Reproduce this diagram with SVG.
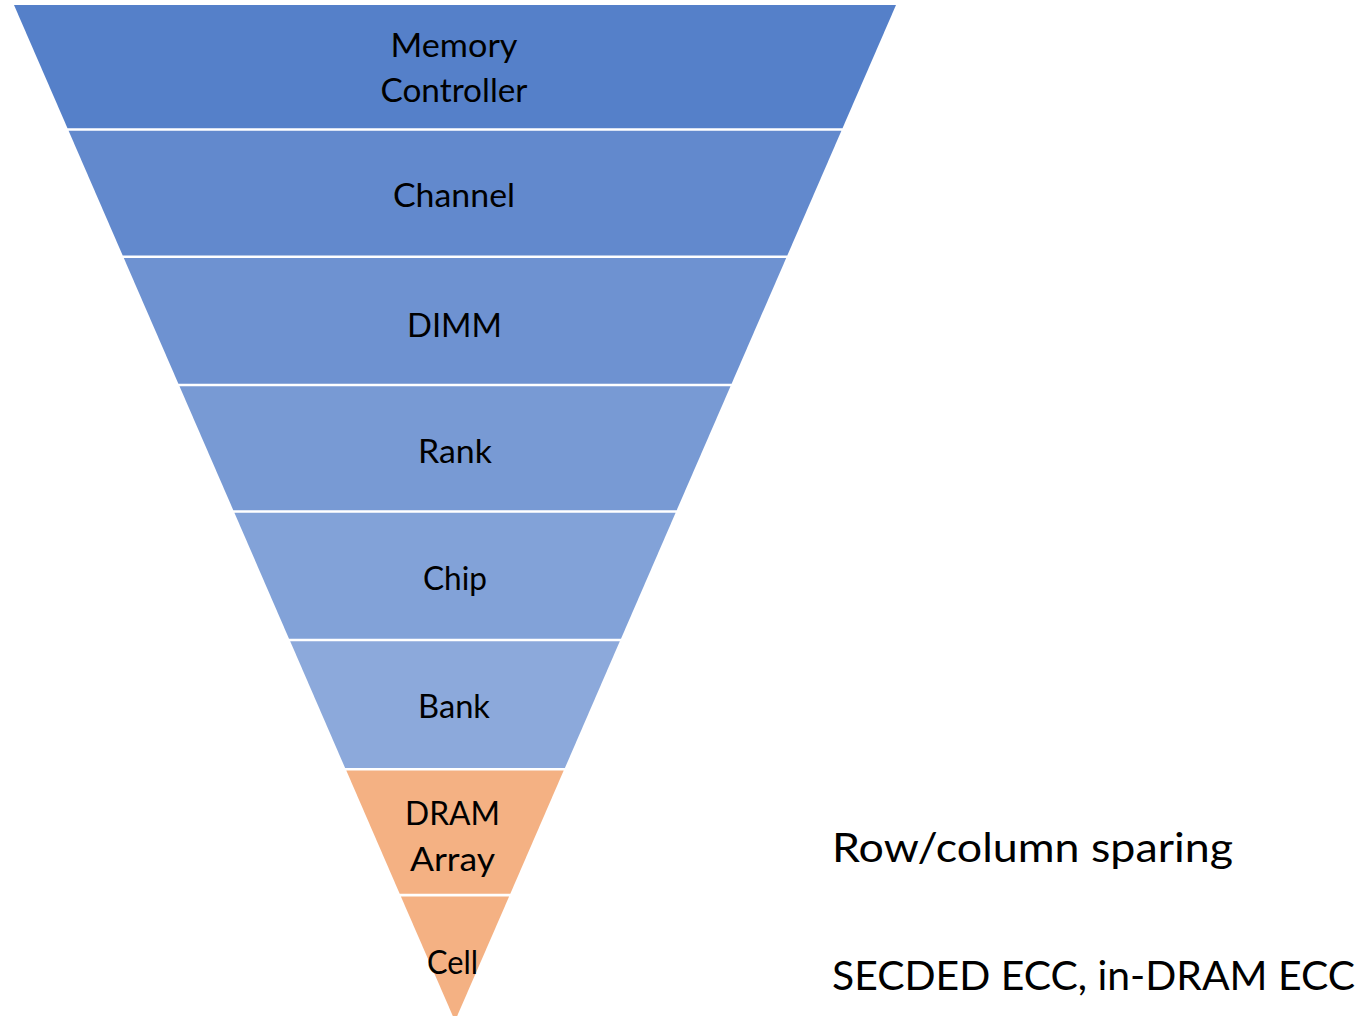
<svg xmlns="http://www.w3.org/2000/svg" width="1364" height="1016" viewBox="0 0 1364 1016">
<style>
.lbl{font-family:Lato,"Liberation Sans",sans-serif;font-size:33.5px;fill:#000;text-anchor:middle}
.side{font-family:Lato,"Liberation Sans",sans-serif;font-size:41px;fill:#000}
</style>
<rect width="1364" height="1016" fill="#fff"/>
<g id="memory-controller">
<polygon points="14,5 896,5 842.5,128.2 67.5,128.2" fill="#5580C9"/>
<text class="lbl" x="454" y="57" textLength="127" lengthAdjust="spacingAndGlyphs">Memory</text>
<text class="lbl" x="454" y="102" textLength="147" lengthAdjust="spacingAndGlyphs">Controller</text>
</g>
<g id="channel">
<polygon points="68.6,130.8 841.4,130.8 787.3,255.5 122.7,255.5" fill="#6289CD"/>
<text class="lbl" x="454" y="207" textLength="122" lengthAdjust="spacingAndGlyphs">Channel</text>
</g>
<g id="dimm">
<polygon points="123.8,258 786.2,258 731.6,383.7 178.4,383.7" fill="#6E92D1"/>
<text class="lbl" x="454.5" y="337" textLength="95" lengthAdjust="spacingAndGlyphs">DIMM</text>
</g>
<g id="rank">
<polygon points="179.5,386.3 730.5,386.3 676.7,510.2 233.3,510.2" fill="#789AD4"/>
<text class="lbl" x="455" y="463" textLength="74" lengthAdjust="spacingAndGlyphs">Rank</text>
</g>
<g id="chip">
<polygon points="234.4,512.8 675.6,512.8 621,638.7 289,638.7" fill="#82A2D8"/>
<text class="lbl" x="455" y="590" textLength="64" lengthAdjust="spacingAndGlyphs">Chip</text>
</g>
<g id="bank">
<polygon points="290.2,641.3 619.8,641.3 564.9,768 345.1,768" fill="#8CA9DB"/>
<text class="lbl" x="454" y="718" textLength="72" lengthAdjust="spacingAndGlyphs">Bank</text>
</g>
<g id="dram-array">
<polygon points="346.3,770.6 563.7,770.6 510.3,893.8 399.7,893.8" fill="#F4B183"/>
<text class="lbl" x="452.5" y="825" textLength="95" lengthAdjust="spacingAndGlyphs">DRAM</text>
<text class="lbl" x="452.5" y="871" textLength="85" lengthAdjust="spacingAndGlyphs">Array</text>
</g>
<g id="cell">
<polygon points="400.9,896.4 509.1,896.4 455,1021" fill="#F4B183"/>
<text class="lbl" x="452.5" y="974" textLength="51" lengthAdjust="spacingAndGlyphs">Cell</text>
</g>
<g id="annotations">
<text class="side" x="832" y="862" textLength="401" lengthAdjust="spacingAndGlyphs">Row/column sparing</text>
<text class="side" x="832" y="990" textLength="523" lengthAdjust="spacingAndGlyphs">SECDED ECC, in-DRAM ECC</text>
</g>
<g id="connectors"/>
</svg>
